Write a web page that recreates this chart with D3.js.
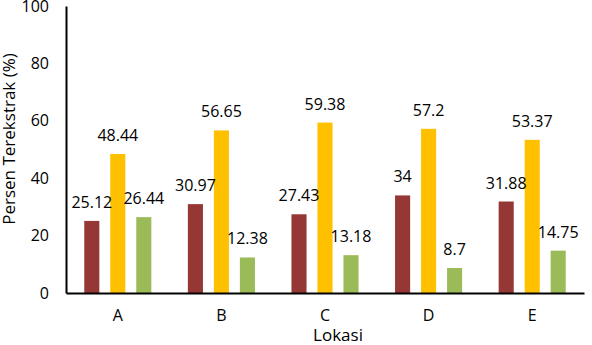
<!DOCTYPE html>
<html>
<head>
<meta charset="utf-8">
<script src="https://cdn.jsdelivr.net/npm/d3@7"></script>
<style>
  html, body { margin: 0; padding: 0; background: #fff; }
  svg { display: block; }
  text { font-family: "Open Sans", "Liberation Sans", sans-serif; fill: #000; }
</style>
</head>
<body>
<svg id="chart" width="592" height="345"></svg>
<script>
const categories = ["A", "B", "C", "D", "E"];
const seriesNames = ["s1", "s2", "s3"];
const series1 = [25.12, 30.97, 27.43, 34, 31.88];
const series2 = [48.44, 56.65, 59.38, 57.2, 53.37];
const series3 = [26.44, 12.38, 13.18, 8.7, 14.75];
const yTicks = [0, 20, 40, 60, 80, 100];
const colors = ["#953735", "#FFC000", "#9BBB59"];
const yTitle = "Persen Terekstrak (%)";
const xTitle = "Lokasi";

(function () {
const seriesValues = [series1, series2, series3];
const svg = d3.select("#chart");
const mLeft = 66, mRight = 584, mTop = 6, mBottom = 293;

const x0 = d3.scaleBand().domain(categories).range([mLeft, mRight]).paddingInner(0).paddingOuter(0);
const groupW = 78;
const x1 = d3.scaleBand().domain(seriesNames)
  .range([(x0.bandwidth() - groupW) / 2, (x0.bandwidth() + groupW) / 2])
  .paddingInner(0.42).paddingOuter(0.21);
const y = d3.scaleLinear().domain([0, 100]).range([mBottom, mTop]);

const groups = svg.append("g").selectAll("g")
  .data(categories)
  .join("g")
  .attr("transform", d => `translate(${x0(d)},0)`);

const rows = (c, i) => seriesNames.map((s, j) => ({ s, j, v: seriesValues[j][i] }));

groups.selectAll("rect")
  .data(rows)
  .join("rect")
  .attr("x", d => x1(d.s))
  .attr("width", x1.bandwidth())
  .attr("y", d => y(d.v))
  .attr("height", d => y(0) - y(d.v))
  .attr("fill", d => colors[d.j]);

groups.selectAll("text.val")
  .data(rows)
  .join("text")
  .attr("class", "val")
  .attr("x", d => x1(d.s) + x1.bandwidth() / 2)
  .attr("y", d => y(d.v) - 13)
  .attr("text-anchor", "middle")
  .style("font-size", "16px")
  .text(d => String(d.v));

const yAxis = svg.append("g")
  .attr("transform", `translate(${mLeft},0)`)
  .call(d3.axisLeft(y).tickValues(yTicks).tickSize(0).tickPadding(17));
yAxis.select(".domain").attr("stroke", "#000").attr("stroke-width", 2);
yAxis.selectAll("text").style("font-size", "16px").attr("fill", "#000")
  .style("font-family", "'Open Sans', sans-serif");

const xAxis = svg.append("g")
  .attr("transform", `translate(0,${mBottom})`)
  .call(d3.axisBottom(x0).tickSize(0).tickPadding(17));
xAxis.select(".domain").attr("stroke", "#000").attr("stroke-width", 2);
xAxis.selectAll("text").style("font-size", "16px").attr("fill", "#000")
  .style("font-family", "'Open Sans', sans-serif");

svg.append("text")
  .attr("transform", "translate(15,139) rotate(-90)")
  .attr("text-anchor", "middle")
  .style("font-size", "17px")
  .text(yTitle);

svg.append("text")
  .attr("x", 338)
  .attr("y", 341)
  .attr("text-anchor", "middle")
  .style("font-size", "17px")
  .text(xTitle);
})();
</script>
</body>
</html>
